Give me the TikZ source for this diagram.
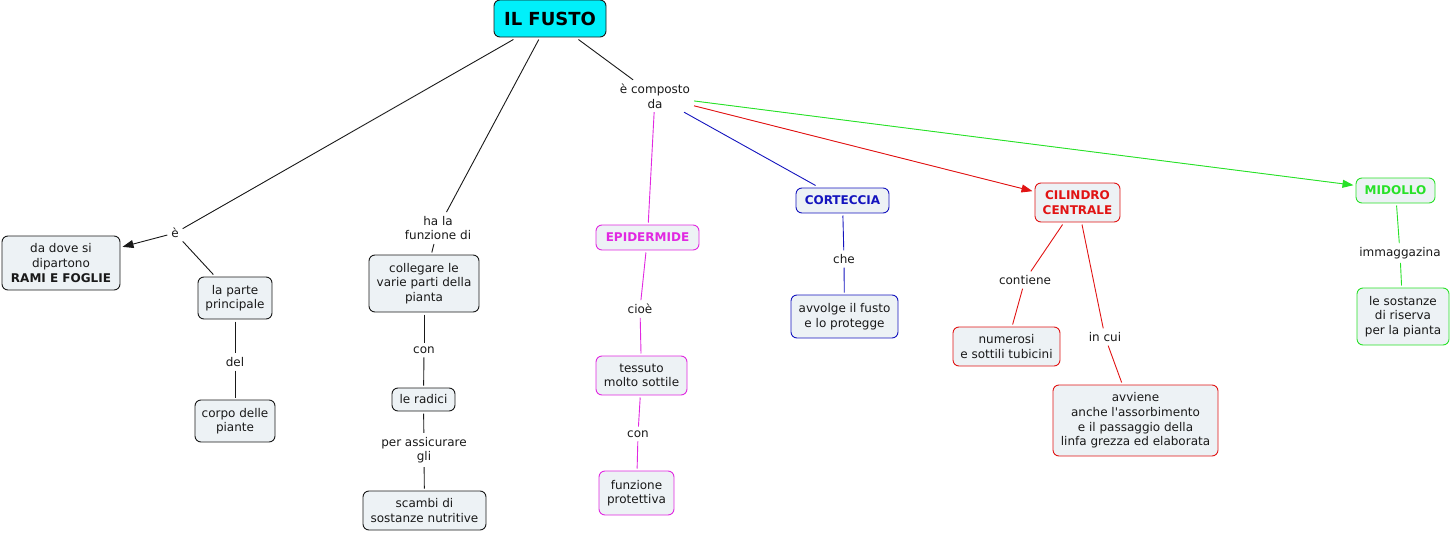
\documentclass[tikz,border=0pt]{standalone}
\usepackage{fontspec}
\setmainfont{DejaVu Sans}
\usetikzlibrary{arrows.meta}
\newcommand{\sqapos}{\XeTeXglyph\XeTeXglyphindex "quotesingle"\relax}
\definecolor{boxfill}{RGB}{237,242,245}
\definecolor{txt}{RGB}{25,25,25}
\definecolor{mag}{RGB}{225,40,225}
\definecolor{blu}{RGB}{20,20,190}
\definecolor{rd}{RGB}{225,20,20}
\definecolor{grn}{RGB}{40,225,40}
\definecolor{cyanfill}{RGB}{0,240,250}
\tikzset{
  box/.style={draw=txt, fill=boxfill, rounded corners=6pt, line width=0.9pt,
    align=center, inner sep=0pt, outer sep=2.5pt, text=txt,
    font=\fontsize{12}{14.6}\selectfont},
  lbl/.style={align=center, inner sep=3pt, outer sep=1pt, text=txt,
    font=\fontsize{12}{14.6}\selectfont},
  conn/.style={line width=0.9pt, draw=txt},
  arr/.style={-{Triangle[length=11pt,width=8pt]}},
  title/.style={font=\fontsize{12}{14.6}\selectfont\bfseries},
}
\begin{document}
\begin{tikzpicture}[x=1pt,y=-1pt]
\useasboundingbox (0,0) rectangle (1452,533);
% main node
\node[box, fill=cyanfill, minimum width=112pt, minimum height=37pt,
  font=\fontsize{18}{20}\selectfont\bfseries, text=black] (fusto) at (550,18.5) {IL FUSTO};
% left branch
\node[lbl] (e) at (175,233) {è};
\node[box, minimum width=118pt, minimum height=54pt] (dadove) at (61,263) {da dove si\\dipartono\\\textbf{RAMI E FOGLIE}};
\node[box, minimum width=74pt, minimum height=42pt] (parte) at (235,298) {la parte\\principale};
\node[lbl] (del) at (235,362) {del};
\node[box, minimum width=80pt, minimum height=42pt] (corpo) at (235,421) {corpo delle\\piante};
% second branch
\node[lbl] (hala) at (438,228) {ha la\\funzione di};
\node[box, minimum width=110pt, minimum height=57pt] (colleg) at (424,283.5) {collegare le\\varie parti della\\pianta};
\node[lbl] (con1) at (424,350) {con};
\node[box, minimum width=63pt, minimum height=23pt] (radici) at (423.5,399.5) {le radici};
\node[lbl] (perass) at (424,450) {per assicurare\\gli};
\node[box, minimum width=123pt, minimum height=39pt] (scambi) at (424.5,510.5) {scambi di\\sostanze nutritive};
% composto
\node[lbl] (comp) at (655,96) {è composto\\da};
\node[box, draw=mag, minimum width=103pt, minimum height=25pt, text=mag, title] (epid) at (647.5,237.5) {EPIDERMIDE};
\node[lbl] (cioe) at (640,309) {cioè};
\node[box, draw=mag, minimum width=91pt, minimum height=39pt] (tessuto) at (641.5,375.5) {tessuto\\molto sottile};
\node[lbl] (con2) at (638,434) {con};
\node[box, draw=mag, minimum width=75pt, minimum height=44pt] (funz) at (636.5,493) {funzione\\protettiva};
\node[box, draw=blu, minimum width=93pt, minimum height=25pt, text=blu, title] (cort) at (842.5,200.5) {CORTECCIA};
\node[lbl] (che) at (844,259) {che};
\node[box, draw=blu, minimum width=107pt, minimum height=43pt] (avvolge) at (844.5,316.5) {avvolge il fusto\\e lo protegge};
\node[box, draw=rd, minimum width=85pt, minimum height=39pt, text=rd, title] (cil) at (1077.5,202.5) {CILINDRO\\CENTRALE};
\node[lbl] (contiene) at (1025,280) {contiene};
\node[box, draw=rd, minimum width=107pt, minimum height=39pt] (numerosi) at (1006.5,346.5) {numerosi\\e sottili tubicini};
\node[lbl] (incui) at (1105,337) {in cui};
\node[box, draw=rd, minimum width=165pt, minimum height=71pt] (avviene) at (1135.5,420.5) {avviene\\anche l\sqapos assorbimento\\e il passaggio della\\linfa grezza ed elaborata};
\node[box, draw=grn, minimum width=79pt, minimum height=25pt, text=grn, title] (midollo) at (1395.5,190.5) {MIDOLLO};
\node[lbl] (immag) at (1400,253) {immaggazina};
\node[box, draw=grn, minimum width=92pt, minimum height=57pt] (sostanze) at (1403,316.5) {le sostanze\\di riserva\\per la pianta};
% connectors
\draw[conn] (fusto) -- (e);
\draw[conn, arr] (e) -- (dadove);
\draw[conn] (e) -- (parte);
\draw[conn] (parte) -- (del);
\draw[conn] (del) -- (corpo);
\draw[conn] (fusto) -- (hala);
\draw[conn] (hala) -- (colleg);
\draw[conn] (colleg) -- (con1);
\draw[conn] (con1) -- (radici);
\draw[conn] (radici) -- (perass);
\draw[conn] (perass) -- (scambi);
\draw[conn] (fusto) -- (comp);
\draw[conn, draw=mag] (comp) -- (epid);
\draw[conn, draw=mag] (epid) -- (cioe);
\draw[conn, draw=mag] (cioe) -- (tessuto);
\draw[conn, draw=mag] (tessuto) -- (con2);
\draw[conn, draw=mag] (con2) -- (funz);
\draw[conn, draw=blu] (comp) -- (cort);
\draw[conn, draw=blu] (cort) -- (che);
\draw[conn, draw=blu] (che) -- (avvolge);
\draw[conn, draw=rd, fill=rd, arr] (comp) -- (cil);
\draw[conn, draw=rd] (cil) -- (contiene);
\draw[conn, draw=rd] (contiene) -- (numerosi);
\draw[conn, draw=rd] (cil) -- (incui);
\draw[conn, draw=rd] (incui) -- (avviene);
\draw[conn, draw=grn, fill=grn, arr] (comp) -- (midollo);
\draw[conn, draw=grn] (midollo) -- (immag);
\draw[conn, draw=grn] (immag) -- (sostanze);
\end{tikzpicture}
\end{document}
